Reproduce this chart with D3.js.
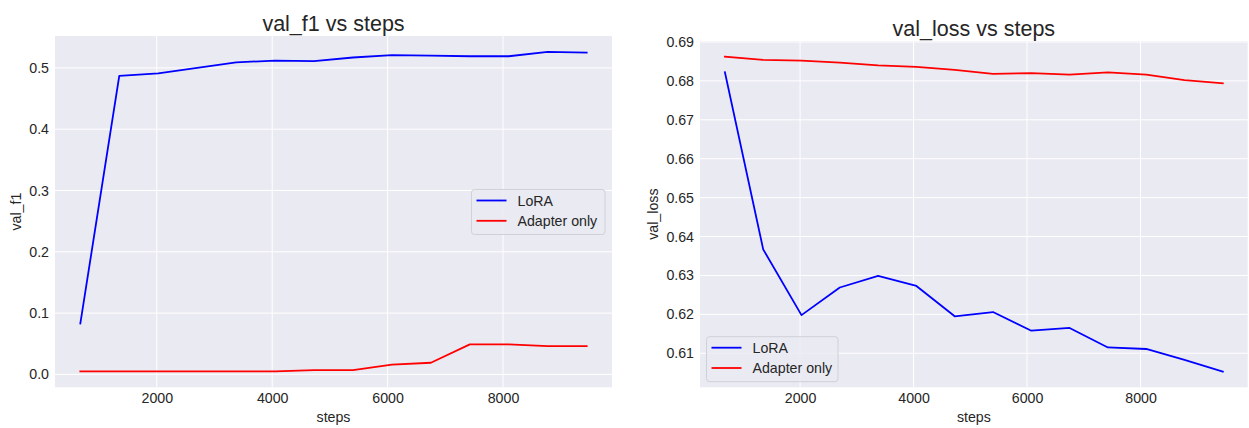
<!DOCTYPE html>
<html><head><meta charset="utf-8">
<script src="https://cdn.jsdelivr.net/npm/d3@7"></script>
<style>
html,body{margin:0;padding:0;background:#fff;}
svg{display:block;font-family:"Liberation Sans",Arial,sans-serif;}
</style></head><body>
<svg id="c" width="1249" height="428"></svg>
<script>
const steps = [675,1350,2025,2700,3375,4050,4725,5400,6075,6750,7425,8100,8775,9450];
const loraF1 = [0.083,0.487,0.491,0.500,0.509,0.512,0.511,0.517,0.521,0.520,0.519,0.519,0.526,0.525];
const adapterF1 = [0.005,0.005,0.005,0.005,0.005,0.005,0.007,0.007,0.016,0.019,0.049,0.049,0.046,0.046];
const loraLoss = [0.6822,0.6367,0.6198,0.6269,0.6299,0.6273,0.6195,0.6206,0.6158,0.6165,0.6115,0.6111,0.6083,0.6053];
const adapterLoss = [0.6862,0.6854,0.6852,0.6847,0.6840,0.6836,0.6828,0.6818,0.6820,0.6816,0.6822,0.6816,0.6802,0.6794];
const seriesNames = ["LoRA","Adapter only"];
const seriesColors = ["#0000ff","#ff0000"];
const xTicks = [2000,4000,6000,8000];
const f1Ticks = [0.0,0.1,0.2,0.3,0.4,0.5];
const lossTicks = [0.61,0.62,0.63,0.64,0.65,0.66,0.67,0.68,0.69];

const svg = d3.select("#c");
const textColor = "#262626";
const fs = 14.2;

function pad(ext){const r=ext[1]-ext[0];return [ext[0]-r*0.05, ext[1]+r*0.05];}

function panel(o){
  const {left,right,top,bottom,title,ylabel,series,yTicks,yFmt,legend} = o;
  const x = d3.scaleLinear().domain(pad(d3.extent(steps))).range([left,right]);
  const allY = series.flat();
  const y = d3.scaleLinear().domain(pad(d3.extent(allY))).range([bottom,top]);
  const g = svg.append("g");
  g.append("rect").attr("x",left).attr("y",top).attr("width",right-left).attr("height",bottom-top).attr("fill","#eaeaf2");
  g.selectAll(".gx").data(xTicks).join("line")
    .attr("x1",d=>x(d)).attr("x2",d=>x(d)).attr("y1",top).attr("y2",bottom)
    .attr("stroke","#fff").attr("stroke-width",1);
  g.selectAll(".gy").data(yTicks).join("line")
    .attr("x1",left).attr("x2",right).attr("y1",d=>y(d)).attr("y2",d=>y(d))
    .attr("stroke","#fff").attr("stroke-width",1);
  const ax = d3.axisBottom(x).tickValues(xTicks).tickSize(0).tickPadding(6).tickFormat(d3.format("d"));
  const axg = g.append("g").attr("transform",`translate(0,${bottom})`).call(ax);
  axg.select(".domain").remove();
  axg.selectAll("text").attr("font-size",fs).attr("fill",textColor).attr("font-family","Liberation Sans,Arial,sans-serif");
  const ay = d3.axisLeft(y).tickValues(yTicks).tickSize(0).tickPadding(6).tickFormat(yFmt);
  const ayg = g.append("g").attr("transform",`translate(${left},0)`).call(ay);
  ayg.select(".domain").remove();
  ayg.selectAll("text").attr("font-size",fs).attr("fill",textColor).attr("font-family","Liberation Sans,Arial,sans-serif");
  const line = d3.line().x((d,i)=>x(steps[i])).y(d=>y(d));
  series.forEach((s,k)=>{
    g.append("path").datum(s).attr("d",line).attr("fill","none")
      .attr("stroke",seriesColors[k]).attr("stroke-width",1.8).attr("stroke-linejoin","round").attr("stroke-linecap","square");
  });
  g.append("text").attr("x",(left+right)/2).attr("y",top-5.5).attr("text-anchor","middle")
    .attr("font-size",21.5).attr("fill",textColor).text(title);
  g.append("text").attr("x",(left+right)/2).attr("y",421.5).attr("text-anchor","middle")
    .attr("font-size",fs).attr("fill",textColor).text("steps");
  g.append("text").attr("transform",`translate(${o.ylabelX},${(top+bottom)/2}) rotate(-90)`).attr("text-anchor","middle")
    .attr("font-size",fs).attr("fill",textColor).text(ylabel);
  const L = legend;
  const lg = g.append("g");
  lg.append("rect").attr("x",L.x).attr("y",L.y).attr("width",L.w).attr("height",L.h).attr("rx",3)
    .attr("fill","#eaeaf2").attr("fill-opacity",0.85).attr("stroke","#d0d0d8").attr("stroke-width",1);
  seriesNames.forEach((n,k)=>{
    const yy = L.y + 11 + k*20.3;
    lg.append("line").attr("x1",L.x+5).attr("x2",L.x+35).attr("y1",yy).attr("y2",yy)
      .attr("stroke",seriesColors[k]).attr("stroke-width",1.8);
    lg.append("text").attr("x",L.x+46).attr("y",yy+5).attr("font-size",fs).attr("fill",textColor).text(n);
  });
}

panel({left:55,right:612,top:36,bottom:387.3,title:"val_f1 vs steps",ylabel:"val_f1",ylabelX:21,
  series:[loraF1,adapterF1],yTicks:f1Ticks,yFmt:d3.format(".1f"),
  legend:{x:471.5,y:189.5,w:133.5,h:45}});
panel({left:700,right:1247.7,top:41,bottom:387.3,title:"val_loss vs steps",ylabel:"val_loss",ylabelX:658,
  series:[loraLoss,adapterLoss],yTicks:lossTicks,yFmt:d3.format(".2f"),
  legend:{x:706.5,y:336.7,w:131.5,h:45}});
</script>
</body></html>
